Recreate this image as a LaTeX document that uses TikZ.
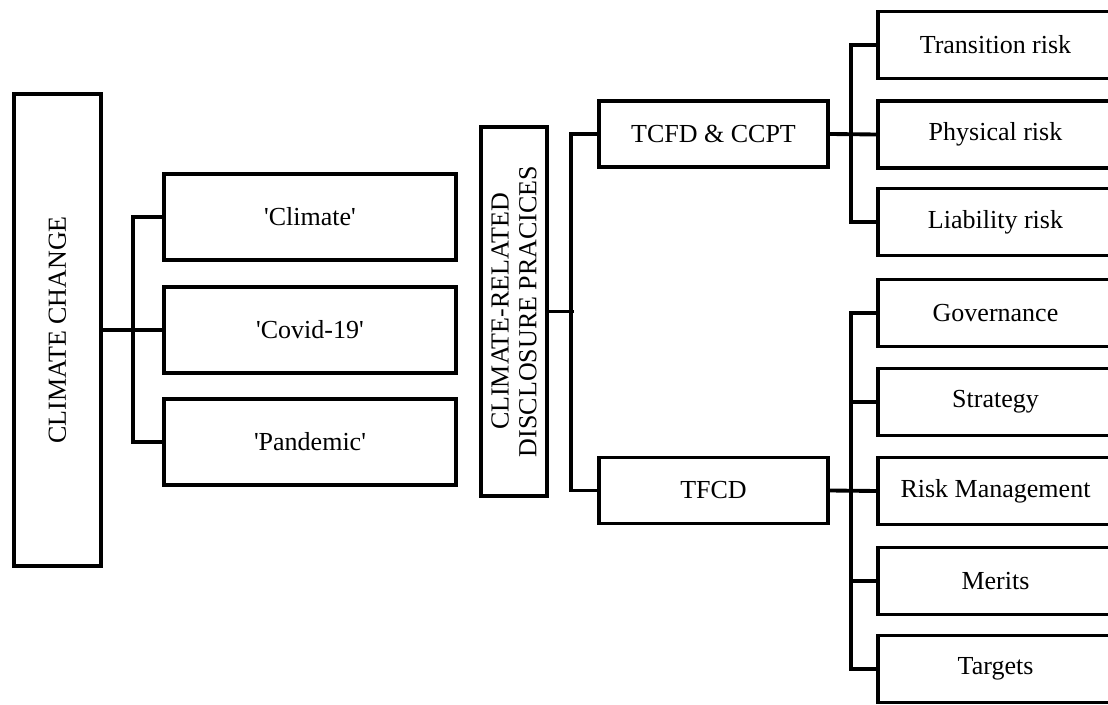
\documentclass[tikz,border=0pt]{standalone}
\usepackage{fontspec}
\setmainfont[Ligatures=TeXOff]{Liberation Serif}
\begin{document}
\begin{tikzpicture}[x=0.02cm,y=-0.02cm,
  box/.style={draw,line width=2.2pt,inner sep=0pt,align=center,
    font=\fontsize{14.8}{15.9}\selectfont},
  side/.style={box,rotate=90},
  word/.style={box,minimum width=5.84cm,minimum height=1.72cm},
  std/.style={box,minimum width=4.58cm,minimum height=1.32cm},
  item/.style={box,minimum width=4.7cm,minimum height=1.34cm},
  link/.style={line width=2.2pt}]
\clip (0,0) rectangle (1108,705);

\node[side,minimum width=9.44cm,minimum height=1.74cm] (cc) at (57.5,330) {CLIMATE CHANGE};
\node[word] (w1) at (310,217) {'Climate'};
\node[word] (w2) at (310,330) {'Covid-19'};
\node[word] (w3) at (310,442) {'Pandemic'};

\node[side,minimum width=7.38cm,minimum height=1.32cm] (crdp) at (514,311.5) {CLIMATE-RELATED\\DISCLOSURE PRACICES};
\node[std] (tcfd) at (713.5,134) {TCFD \& CCPT};
\node[std] (tfcd) at (713.5,490.5) {TFCD};

\node[item] (tr) at (995.5,45) {Transition risk};
\node[item] (ph) at (995.5,134.5) {Physical risk};
\node[item] (li) at (995.5,222) {Liability risk};
\node[item] (go) at (995.5,313) {Governance};
\node[item] (st) at (995.5,402) {Strategy};
\node[item] (rm) at (995.5,491) {Risk Management};
\node[item] (me) at (995.5,581) {Merits};
\node[item] (ta) at (995.5,669) {Targets};

\draw[link] (cc.south) -- (w2.west);
\draw[link] (w1.west) -- ++(-29,0) |- (w3.west);

\draw[link] (crdp.south) -- ++(25,0);
\draw[link] (tcfd.west) -- ++(-26,0) |- (tfcd.west);

\draw[link] (tcfd.east) -- (ph.west);
\draw[link] (tr.west) -- ++(-25,0) |- (li.west);

\draw[link] (tfcd.east) -- (rm.west);
\draw[link] (go.west) -- ++(-25,0) |- (ta.west);
\draw[link] (st.west) -- ++(-25,0);
\draw[link] (me.west) -- ++(-25,0);
\end{tikzpicture}
\end{document}
